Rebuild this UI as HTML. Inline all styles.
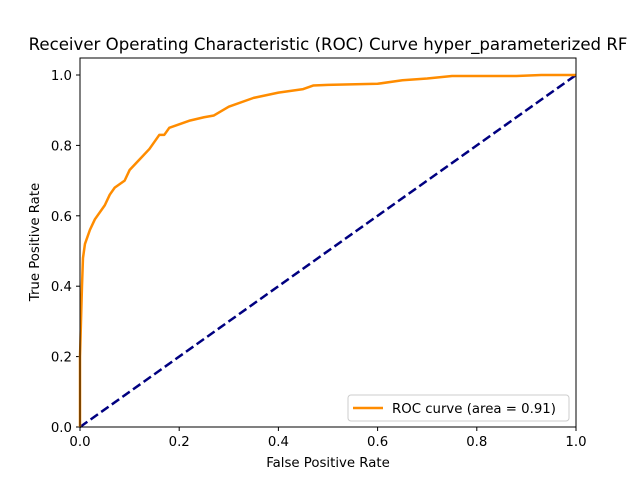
<!DOCTYPE html>
<html><head><meta charset="utf-8"><style>
body{margin:0;background:#fff}
svg text{font-family:"DejaVu Sans","Liberation Sans",sans-serif;fill:#000}
</style></head><body>
<svg id="chart" width="640" height="480" viewBox="0 0 640 480">
<rect width="640" height="480" fill="#fff"/>
<text x="328" y="50" font-size="16.6" text-anchor="middle">Receiver Operating Characteristic (ROC) Curve hyper_parameterized RF</text>
<g id="ticks"></g>
<g id="series"></g>
<rect x="80" y="58" width="496" height="369" fill="none" stroke="#000" stroke-width="1"/>
<text x="328" y="467" font-size="13.3" text-anchor="middle">False Positive Rate</text>
<text x="39" y="242" font-size="13.3" text-anchor="middle" transform="rotate(-90 39 242)">True Positive Rate</text>
<g>
<rect x="348" y="395" width="221" height="26" rx="3" fill="#fff" stroke="#ccc"/>
<line x1="353" y1="408" x2="383" y2="408" stroke="#ff8c00" stroke-width="2.5"/>
<text x="392" y="413" font-size="13.3">ROC curve (area = 0.91)</text>
</g>
</svg>
<script>
const fpr=[0,0,0.002,0.004,0.006,0.01,0.02,0.03,0.05,0.06,0.07,0.09,0.1,0.12,0.14,0.16,0.17,0.18,0.2,0.22,0.25,0.27,0.3,0.35,0.4,0.45,0.47,0.5,0.6,0.65,0.7,0.75,0.88,0.93,1];
const tpr=[0,0.2,0.3,0.4,0.48,0.52,0.56,0.59,0.63,0.66,0.68,0.70,0.73,0.76,0.79,0.83,0.83,0.85,0.86,0.87,0.88,0.885,0.91,0.935,0.95,0.96,0.97,0.972,0.975,0.985,0.99,0.997,0.997,1.0,1];
const diagX=[0,1];
const diagY=[0,1];
const xTicks=[0,0.2,0.4,0.6,0.8,1.0];
const yTicks=[0,0.2,0.4,0.6,0.8,1.0];
const NS="http://www.w3.org/2000/svg";
const sx=v=>80+v*496;
const sy=v=>427-v*352;
const tg=document.getElementById('ticks'),sg=document.getElementById('series');
function mk(tag,attrs,parent){const e=document.createElementNS(NS,tag);for(const k in attrs)e.setAttribute(k,attrs[k]);parent.appendChild(e);return e;}
xTicks.forEach(t=>{
 const l=mk('line',{x1:sx(t),x2:sx(t),y1:427,y2:431,stroke:'#000'},tg);
 
 
 const tx=mk('text',{x:sx(t),y:446,'font-size':13.3,'text-anchor':'middle'},tg);
 tx.textContent=t.toFixed(1);
 
 
});
yTicks.forEach(t=>{
 const l=mk('line',{x1:76,x2:80,y1:sy(t),y2:sy(t),stroke:'#000'},tg);
 
 
 const tx=mk('text',{x:72,y:sy(t)+5,'font-size':13.3,'text-anchor':'end'},tg);
 tx.textContent=t.toFixed(1);
 
 
});
const d=diagX.map((v,i)=>sx(v)+','+sy(diagY[i])).join(' ');
const dl=mk('polyline',{points:d,fill:'none',stroke:'#000080','stroke-width':2.5,'stroke-dasharray':'9,4'},sg);


const p=fpr.map((v,i)=>sx(v)+','+sy(tpr[i])).join(' ');
const rl=mk('polyline',{points:p,fill:'none',stroke:'#ff8c00','stroke-width':2.5,'stroke-linejoin':'round'},sg);


</script>
</body></html>
